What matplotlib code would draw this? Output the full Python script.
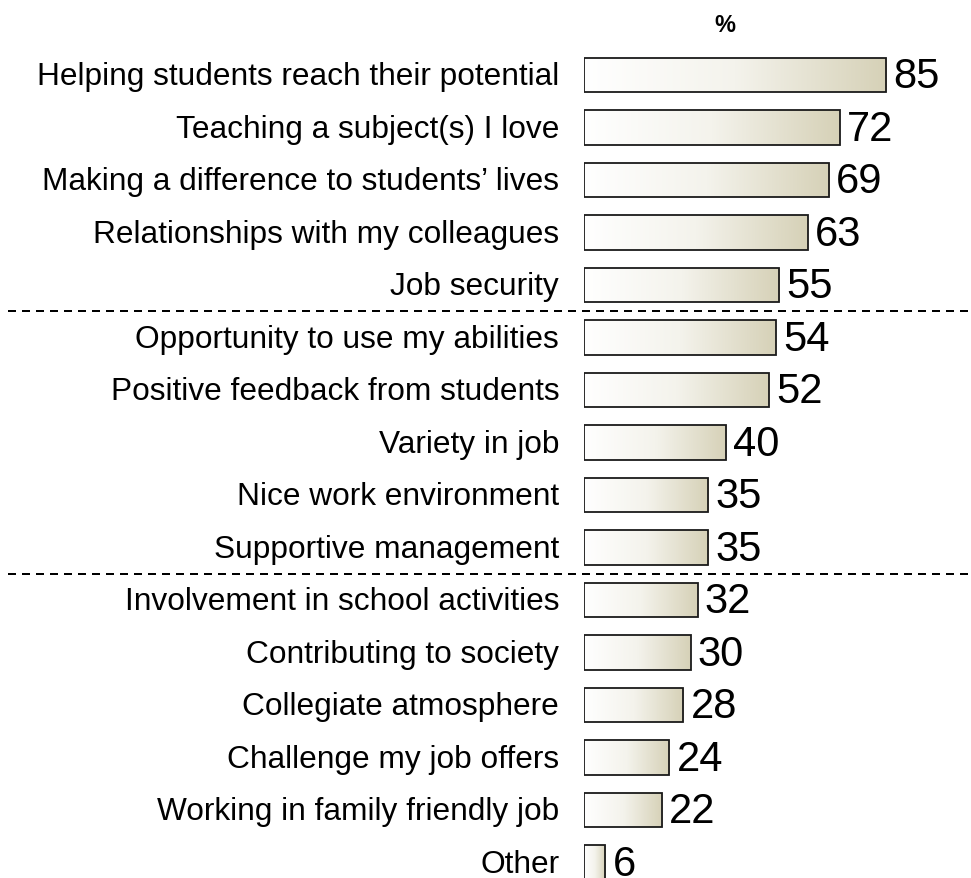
import numpy as np
import matplotlib
matplotlib.use("Agg")
import matplotlib.pyplot as plt
from matplotlib.colors import LinearSegmentedColormap
from matplotlib.patches import Rectangle

categories = [
    "Helping students reach their potential",
    "Teaching a subject(s) I love",
    "Making a difference to students\u2019 lives",
    "Relationships with my colleagues",
    "Job security",
    "Opportunity to use my abilities",
    "Positive feedback from students",
    "Variety in job",
    "Nice work environment",
    "Supportive management",
    "Involvement in school activities",
    "Contributing to society",
    "Collegiate atmosphere",
    "Challenge my job offers",
    "Working in family friendly job",
    "Other",
]
values = [85, 72, 69, 63, 55, 54, 52, 40, 35, 35, 32, 30, 28, 24, 22, 6]
group_breaks = [4.5, 9.5]

plt.rcParams["font.family"] = ["Liberation Sans", "DejaVu Sans"]

W, H, DPI = 971, 879, 100
fig = plt.figure(figsize=(W / DPI, H / DPI), dpi=DPI)

# axes spans the full figure height; rows are placed via ylim
row0_px, row_step_px = 76.0, 52.5
left_px, px_per_unit = 584.0, 3.553
ax = fig.add_axes([left_px / W, 0, (W - left_px) / W, 1])
ax.set_xlim(0, (W - left_px) / px_per_unit)
ax.axis("off")

cmap = LinearSegmentedColormap.from_list("bar_fill", ["#ffffff", "#f4f3ec", "#d6d1b7"])
grad = np.linspace(0, 1, 256).reshape(1, -1)
bar_h = 0.65

for i, (cat, v) in enumerate(zip(categories, values)):
    y0 = i - bar_h / 2
    im = ax.imshow(grad, cmap=cmap, aspect="auto",
                   extent=(0, v, i + bar_h / 2, y0), zorder=1,
                   interpolation="bilinear")
    rect = Rectangle((0, y0), v, bar_h, facecolor="none",
                     edgecolor="#1a1a1a", linewidth=1.3, zorder=2)
    ax.add_patch(rect)
    im.set_clip_path(rect)
    ax.text(v + 2.0, i + 0.02, f"{v}", ha="left", va="center",
            fontsize=30, color="black")
    ax.text(-7.0, i + 0.02, cat, ha="right", va="center", fontsize=22.8,
            color="black", clip_on=False)

ax.set_xlim(0, (W - left_px) / px_per_unit)
ax.set_ylim((H - row0_px) / row_step_px, -row0_px / row_step_px)

x_start = (8 - left_px) / px_per_unit
x_end = (968 - left_px) / px_per_unit
for yb in group_breaks:
    ax.plot([x_start, x_end], [yb, yb], color="black", linewidth=1.44,
            linestyle=(0, (4, 3)), solid_capstyle="butt",
            dash_capstyle="butt", clip_on=False, zorder=3)

fig.text(725 / W, 1 - 25 / H, "%", ha="center", va="center",
         fontsize=17, fontweight="bold")

fig.savefig("out.png", dpi=DPI)
